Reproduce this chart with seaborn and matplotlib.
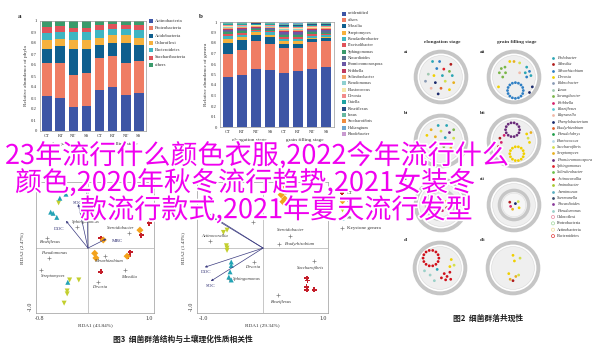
import numpy as np
import pandas as pd
import matplotlib
matplotlib.use("Agg")
import matplotlib.pyplot as plt
import matplotlib.patheffects as pe
from matplotlib.patches import Circle
import seaborn as sns

sns.set_theme(style="white")
plt.rcParams["font.family"] = ["Liberation Serif", "DejaVu Serif"]

# ---------------- data: stacked bars ----------------
samples = ["CT", "RT", "NT", "SS", "CT", "RT", "NT", "SS"]
stage_names = ["elongation stage", "grain filling stage"]

phylum_names = ["Actinobacteria", "Proteobacteria", "Acidobacteria", "Chloroflexi",
                "Bacteroidetes", "Saccharibacteria", "others"]
actinobacteria = [0.32, 0.30, 0.22, 0.23, 0.37, 0.40, 0.33, 0.35]
proteobacteria = [0.30, 0.32, 0.29, 0.30, 0.29, 0.28, 0.29, 0.29]
acidobacteria = [0.13, 0.15, 0.24, 0.22, 0.12, 0.12, 0.18, 0.14]
chloroflexi = [0.08, 0.07, 0.08, 0.08, 0.07, 0.07, 0.07, 0.07]
bacteroidetes = [0.06, 0.06, 0.07, 0.07, 0.07, 0.06, 0.06, 0.07]
saccharibacteria = [0.06, 0.05, 0.04, 0.04, 0.04, 0.04, 0.03, 0.04]
phylum_others = [0.05, 0.05, 0.06, 0.06, 0.04, 0.03, 0.04, 0.04]
phylum_colors = ["#3d55a5", "#ef7d64", "#0f5f8e", "#f6b13d", "#3fb5c2", "#e0535a", "#3a9b6b"]

genus_names = ["unidentified", "others", "Massilia", "Streptomyces", "Pseudarthrobacter",
               "Flavisolibacter", "Sphingomonas", "Nocardioides", "Promicromonospora",
               "Kribbella", "Solirubrobacter", "Pseudomonas", "Blastococcus", "Devosia",
               "Gaiella", "Roseiflexus", "Ianus", "Saccharofibris", "Haliangium", "Rhodobacter"]
g_unidentified = [0.48, 0.50, 0.55, 0.54, 0.51, 0.53, 0.55, 0.57]
g_others = [0.22, 0.23, 0.27, 0.25, 0.24, 0.22, 0.26, 0.25]
g_massilia = [0.10, 0.10, 0.06, 0.07, 0.04, 0.04, 0.03, 0.03]
g_streptomyces = [0.04, 0.03, 0.02, 0.02, 0.03, 0.03, 0.01, 0.01]
g_pseudarthrobacter = [0.03, 0.02, 0.01, 0.02, 0.02, 0.02, 0.02, 0.02]
g_flavisolibacter = [0.02, 0.02, 0.01, 0.01, 0.02, 0.02, 0.02, 0.01]
g_sphingomonas = [0.015, 0.015, 0.01, 0.01, 0.015, 0.015, 0.01, 0.01]
g_nocardioides = [0.01, 0.01, 0.01, 0.01, 0.015, 0.015, 0.01, 0.01]
g_promicromonospora = [0.01, 0.01, 0.005, 0.01, 0.01, 0.01, 0.01, 0.01]
g_kribbella = [0.01, 0.01, 0.005, 0.005, 0.01, 0.01, 0.01, 0.01]
g_solirubrobacter = [0.01, 0.01, 0.01, 0.01, 0.01, 0.01, 0.01, 0.01]
g_pseudomonas = [0.01, 0.005, 0.005, 0.005, 0.01, 0.01, 0.005, 0.005]
g_blastococcus = [0.01, 0.005, 0.005, 0.005, 0.01, 0.01, 0.01, 0.01]
g_devosia = [0.005, 0.005, 0.005, 0.005, 0.01, 0.01, 0.01, 0.01]
g_gaiella = [0.01, 0.01, 0.01, 0.01, 0.01, 0.01, 0.01, 0.01]
g_roseiflexus = [0.005, 0.005, 0.005, 0.005, 0.01, 0.01, 0.01, 0.01]
g_ianus = [0.005, 0.005, 0.005, 0.005, 0.01, 0.01, 0.005, 0.005]
g_saccharofibris = [0.005, 0.005, 0.005, 0.005, 0.005, 0.005, 0.005, 0.005]
g_haliangium = [0.005, 0.005, 0.005, 0.005, 0.005, 0.005, 0.005, 0.005]
g_rhodobacter = [0.005, 0.005, 0.005, 0.005, 0.005, 0.005, 0.005, 0.005]
genus_colors = ["#3d55a5", "#ef7d64", "#0f5f8e", "#f6b13d", "#3fb5c2", "#e0535a", "#3a9b6b",
                "#5b6f8f", "#6b58a6", "#c0395f", "#f3a86a", "#8fd0d0", "#f5e6a8", "#f28b8b",
                "#1fa3a3", "#2b4d86", "#67b8a0", "#f08c3e", "#6ea5cf", "#c99ad0"]

# ---------------- data: networks ----------------
net_names = ["Pedobacter", "Massilia", "Mesorhizobium", "Devosia", "Rubrobacter", "Ianus",
             "Sorangibacter", "Kribbella", "Roseiflexus", "Rayranella", "Phenylobacterium",
             "Bradyrhizobium", "Pseudolabrys", "Blastococcus", "Saccharofibris", "Streptomyces",
             "Promicromonospora", "Sphingomonas", "Solirubrobacter", "Actinocorallia",
             "Aminobacter", "Arenimonas", "Skermanella", "Nocardioides", "Pseudomonas"]
net_colors = ["#2ba6b5", "#b01c1c", "#2f7fc4", "#f0d000", "#8a9bb5", "#9fc8b0", "#7ab648",
              "#d6236e", "#5bc8d6", "#f0b8a8", "#1a2a6c", "#e0602a", "#1f9e4a", "#b8d8e8",
              "#d4e04a", "#e8b020", "#6a2b7a", "#e0202a", "#6cc04a", "#d0101a", "#a8c830",
              "#5aaec0", "#3a4a6a", "#8a3a9a", "#9ad0c8"]
phyla_open = ["Chloroflexi", "Proteobacteria", "Actinobacteria", "Bacteroidetes"]
phyla_open_colors = ["#e88aa0", "#9fd49a", "#efdc9a", "#e03a3a"]

ai_nodes = [(-0.30, 0.55, 0), (-0.05, 0.55, 2), (0.35, 0.45, 1), (-0.15, 0.30, 2), (0.10, 0.28, 17),
            (0.30, 0.20, 6), (-0.45, 0.10, 5), (-0.25, 0.05, 3), (0.05, 0.05, 0), (0.40, 0.05, 0),
            (-0.55, -0.15, 4), (-0.20, -0.20, 10), (0.15, -0.15, 14), (0.45, -0.20, 15),
            (-0.35, -0.40, 9), (0.00, -0.40, 11), (0.30, -0.45, 3), (-0.10, -0.60, 10)]
aii_nodes = [(-0.45, 0.30, 6), (-0.32, 0.35, 6), (-0.52, 0.15, 6), (-0.30, 0.15, 6), (-0.40, 0.00, 6),
             (0.45, 0.35, 0), (0.55, 0.20, 2), (0.40, 0.15, 0), (0.60, 0.05, 0), (0.45, 0.00, 2),
             (0.00, 0.55, 15), (0.20, 0.50, 14), (-0.15, 0.55, 3), (0.65, -0.35, 10),
             (0.55, -0.55, 10), (-0.55, -0.35, 3), (0.20, 0.15, 9)]
bi_nodes = [(-0.10, 0.55, 0), (0.20, 0.55, 0), (0.45, 0.40, 6), (-0.35, 0.40, 15), (0.00, 0.35, 14),
            (0.30, 0.30, 16), (-0.50, 0.20, 3), (-0.20, 0.15, 15), (0.15, 0.12, 0), (0.45, 0.10, 14),
            (-0.30, -0.10, 3), (0.10, -0.20, 6), (0.35, -0.25, 15), (-0.10, -0.40, 3)]
bii_nodes = [(-0.50, 0.10, 1), (-0.45, -0.05, 7), (-0.55, -0.20, 1), (-0.35, 0.20, 7),
             (0.50, 0.10, 14), (0.55, -0.05, 3), (0.45, 0.25, 3), (0.60, 0.30, 15)]
ci_nodes = [(-0.20, -0.15, 1), (0.05, -0.20, 7), (0.20, -0.10, 1), (-0.10, 0.10, 15), (0.15, 0.12, 3)]
cii_nodes = [(-0.15, 0.10, 1), (0.15, 0.12, 14), (-0.12, -0.05, 7), (0.18, -0.10, 3),
             (-0.05, -0.15, 15), (0.05, 0.05, 10)]
di_nodes = [(0.15, -0.20, 19), (0.25, -0.30, 19), (0.35, -0.15, 19), (0.20, -0.42, 19),
            (0.38, -0.40, 19), (0.05, -0.35, 19), (0.40, 0.30, 3), (0.50, 0.10, 14), (0.35, 0.05, 3),
            (-0.55, -0.10, 24), (-0.35, -0.25, 24), (-0.10, -0.05, 0), (-0.20, -0.45, 24)]
dii_nodes = [(0.00, 0.45, 3), (0.25, 0.35, 14), (0.05, 0.25, 3), (-0.15, -0.20, 3), (0.10, -0.30, 15),
             (0.00, -0.45, 1), (0.20, -0.25, 14), (-0.10, -0.40, 15)]
# ring modules: centre x, centre y, radius, node count, genus
aii_rings = [(0.05, -0.48, 0.28, 16, 2)]
bii_rings = [(-0.05, 0.40, 0.25, 14, 16), (0.10, -0.45, 0.25, 14, 3)]
di_rings = [(-0.32, 0.35, 0.28, 14, 19)]

# ---------------- data: RDA ----------------
left_group = ["CT"] * 6 + ["RT"] * 5 + ["NT"] * 6 + ["SS"] * 6
left_rda1 = [1.00, 0.87, 0.21, 0.69, 0.66, 0.21, 0.85, 0.25, 0.11, 0.13, 0.64,
             -0.48, -0.30, -0.15, -0.34, -0.34, -0.39, -0.46, -0.36, -0.61, -0.57, -0.51, -0.33]
left_rda2 = [0.43, 0.22, 0.17, -0.07, -0.14, -0.41, 0.31, 0.14, -0.09, -0.17, -0.14,
             0.78, -0.55, -0.55, -0.74, -0.79, -0.95, 0.86, 0.93, 0.62, 0.60, 0.53, -0.59]
left_key_names = ["Sphingomonas", "Steroidobacter", "Roseiflexus", "Pseudomonas",
                  "Mesorhizobium", "Streptomyces", "Massilia", "Devosia"]
left_key_x = [-0.18, 0.67, -0.67, -0.64, 0.28, -0.77, 0.61, 0.16]
left_key_y = [0.36, 0.26, 0.17, -0.17, -0.14, -0.38, -0.38, -0.59]
left_env_names = ["DOC", "SOC", "", "MBC"]
left_env_x = [-0.36, -0.16, -0.02, 0.30]
left_env_y = [0.47, 0.76, 1.05, 0.16]

right_group = ["CT"] * 5 + ["RT"] * 5 + ["NT"] * 5 + ["SS"] * 5
right_rda1 = [0.73, 0.74, 0.72, 0.73, 0.85, 0.32, 0.38, 0.30, 0.36, 0.33,
              -0.66, -0.60, -0.61, -0.60, -0.60, -0.53, -0.53, -0.55, -0.57, -0.53]
right_rda2 = [-0.52, -0.56, -0.67, -0.72, -0.72, 1.05, 0.98, 0.92, 0.85, 0.80,
              0.27, 0.31, 0.04, 0.00, -0.04, -0.24, -0.30, -0.41, -0.50, -0.55]
right_key_names = ["", "Actinocorallia", "Steroidobacter", "Bradyrhizobium",
                   "Devosia", "Saccharofibris", "Sphingomonas", "Roseiflexus"]
right_key_x = [-0.17, -0.88, 0.45, 0.27, -0.15, 0.85, -0.57, 0.25]
right_key_y = [0.45, 0.12, 0.21, 0.07, -0.24, -0.22, -0.53, -0.81]
right_env_names = ["DOC", "SOC", "", ""]
right_env_x = [-0.97, -0.87, -0.83, -0.95]
right_env_y = [-0.33, -0.57, 0.52, 0.62]

group_colors = {"CT": "#c41e2a", "RT": "#f3a21b", "NT": "#c3cf2e", "SS": "#22a3b5"}
group_markers = {"CT": "P", "RT": "D", "NT": "v", "SS": "^"}

overlay_lines = ["23年流行什么颜色衣服,2022今年流行什么",
                 "颜色,2020年秋冬流行趋势,2021女装冬",
                 "款流行款式,2021年夏天流行发型"]

# ---------------- layout ----------------
W, H = 600, 357
fig = plt.figure(figsize=(6, 3.57), dpi=100)
fig.patch.set_facecolor("white")


def box(l, t, r, b):
    return [l / W, 1 - b / H, (r - l) / W, (b - t) / H]


TXT = "#333333"
SPINE = "#9a9a9a"

# text label anchors (left edge) for the RDA panels, in axis units
left_key_lx = [-0.26, 0.31, -0.80, -0.77, 0.10, -0.77, 0.54, 0.07]
left_key_ly = [0.45, 0.34, 0.11, -0.09, -0.22, -0.49, -0.50, -0.68]
left_env_lx = [-0.56, -0.25, 0.0, 0.39]
left_env_ly = [0.33, 0.78, 0.0, 0.12]
right_key_lx = [0.0, -1.03, 0.23, 0.37, -0.30, 0.57, -0.50, 0.12]
right_key_ly = [0.0, 0.21, 0.31, 0.07, -0.33, -0.34, -0.53, -0.93]
right_env_lx = [-1.03, -0.95, 0.0, 0.0]
right_env_ly = [-0.42, -0.66, 0.0, 0.0]


def stacked(ax, layers, colors, ylabel):
    tops = np.cumsum(np.array(layers), axis=0)
    pos = list(range(len(samples)))
    for top, col in zip(tops[::-1], colors[::-1]):
        sns.barplot(x=pos, y=top, color=col, width=0.74, saturation=1,
                    errorbar=None, linewidth=0, ax=ax)
    ax.set_xlim(-0.55, len(samples) - 0.45)
    ax.set_ylim(0, 1.0)
    ax.set_xticks(pos)
    ax.set_xticklabels(samples)
    ax.set_yticks(np.arange(0, 1.01, 0.1))
    ax.set_yticklabels(["0"] + [f"{v:.1f}" for v in np.arange(0.1, 0.95, 0.1)] + ["1"])
    ax.tick_params(labelsize=3.4, length=1.2, width=0.4, pad=1, colors=TXT)
    for s in ax.spines.values():
        s.set_color(SPINE)
        s.set_linewidth(0.5)
    ax.set_ylabel(ylabel, fontsize=3.8, color=TXT, labelpad=2)
    ax.set_xlabel("")
    for k, name in enumerate(stage_names):
        ax.text(1.5 + 4 * k, -0.10, name, transform=ax.get_xaxis_transform(),
                ha="center", va="top", fontsize=3.8, color=TXT)


ax_a = fig.add_axes(box(40, 21, 146, 131))
stacked(ax_a, [actinobacteria, proteobacteria, acidobacteria, chloroflexi, bacteroidetes,
               saccharibacteria, phylum_others], phylum_colors, "Relative abundance of phyla")

ax_b = fig.add_axes(box(220, 22, 334, 127))
stacked(ax_b, [g_unidentified, g_others, g_massilia, g_streptomyces, g_pseudarthrobacter,
               g_flavisolibacter, g_sphingomonas, g_nocardioides, g_promicromonospora,
               g_kribbella, g_solirubrobacter, g_pseudomonas, g_blastococcus, g_devosia,
               g_gaiella, g_roseiflexus, g_ianus, g_saccharofibris, g_haliangium,
               g_rhodobacter], genus_colors, "Relative abundance of genera")


def network(cx, cy, nodes, rings=(), double=False):
    ax = fig.add_axes(box(cx - 31, cy - 31, cx + 31, cy + 31))
    ax.set_xlim(-1.1, 1.1)
    ax.set_ylim(-1.1, 1.1)
    ax.set_aspect("equal")
    ax.axis("off")
    ax.add_patch(Circle((0, 0), 0.9, fill=False, ec="#c6c6c6", lw=2.8))
    ax.add_patch(Circle((0, 0), 0.76, fc="#efefef", ec="#dadada", lw=0.4))
    if double:
        ax.add_patch(Circle((0, 0), 0.52, fill=False, ec="#c6c6c6", lw=2.4))
        ax.add_patch(Circle((0, 0), 0.42, fc="#f6f6f6", ec="#dadada", lw=0.3))
    xs = [n[0] for n in nodes]
    ys = [n[1] for n in nodes]
    cs = [net_colors[n[2]] for n in nodes]
    for rx, ry, rr, cnt, g in rings:
        ang = np.linspace(0, 2 * np.pi, cnt, endpoint=False)
        xs += list(rx + rr * np.cos(ang))
        ys += list(ry + rr * np.sin(ang))
        cs += [net_colors[g]] * cnt
    sns.scatterplot(x=xs, y=ys, c=cs, s=4, linewidth=0, ax=ax, legend=False)
    return ax


network(441, 77, ai_nodes)
network(514, 77, aii_nodes, aii_rings)
network(441, 141, bi_nodes)
network(514, 141, bii_nodes, bii_rings)
network(441, 205, ci_nodes, double=True)
network(514, 205, cii_nodes, double=True)
network(440, 268, di_nodes, di_rings)
network(513, 268, dii_nodes)


def rda(ax, g, r1, r2, kn, kx, ky, klx, kly, en, ex, ey, elx, ely, xlim, xt, xlabel, ylabel):
    df = pd.DataFrame({"RDA1": r1, "RDA2": r2, "group": g})
    ax.axhline(0, color="#b0b0b0", lw=0.5, zorder=0)
    ax.axvline(0, color="#b0b0b0", lw=0.5, zorder=0)
    for name, x, y, lx, ly in zip(en, ex, ey, elx, ely):
        ax.annotate("", xy=(x, y), xytext=(0, 0),
                    arrowprops=dict(arrowstyle="-|>", lw=0.5, color="#3b3b80",
                                    mutation_scale=3, shrinkA=0, shrinkB=0))
        if name:
            ax.text(lx, ly, name, fontsize=3.6, color="#2b2b70", ha="left", va="center")
    sns.scatterplot(x=kx, y=ky, marker="+", color="#808080", s=6, linewidth=0.5,
                    ax=ax, legend=False)
    for name, lx, ly in zip(kn, klx, kly):
        if name:
            ax.text(lx, ly, name, fontsize=3.3, style="italic", color=TXT,
                    ha="left", va="center")
    sns.scatterplot(data=df, x="RDA1", y="RDA2", hue="group", style="group",
                    palette=group_colors, markers=group_markers, s=13,
                    linewidth=0, ax=ax, legend=False)
    ax.set_xlim(*xlim)
    ax.set_ylim(-1.12, 1.14)
    ax.set_xticks(xt)
    ax.set_xticklabels([f"{v:.1f}" for v in xt])
    ax.set_yticks([-1.0])
    ax.set_yticklabels(["-1.0"], rotation=90, va="center")
    ax.tick_params(labelsize=4.2, length=0, pad=2, colors=TXT)
    ax.set_xlabel(xlabel, fontsize=3.8, color=TXT, labelpad=2)
    ax.set_ylabel(ylabel, fontsize=3.8, color=TXT, labelpad=3)
    for s in ax.spines.values():
        s.set_color(SPINE)
        s.set_linewidth(0.5)


ax_l = fig.add_axes(box(36, 182, 154, 313))
rda(ax_l, left_group, left_rda1, left_rda2, left_key_names, left_key_x, left_key_y,
    left_key_lx, left_key_ly, left_env_names, left_env_x, left_env_y, left_env_lx, left_env_ly,
    (-0.85, 1.08), [-0.8, 1.0], "RDA1 (43.84%)", "RDA2 (2.47%)")

ax_r = fig.add_axes(box(197, 182, 328, 313))
rda(ax_r, right_group, right_rda1, right_rda2, right_key_names, right_key_x, right_key_y,
    right_key_lx, right_key_ly, right_env_names, right_env_x, right_env_y, right_env_lx,
    right_env_ly, (-1.1, 1.08), [-1.0, 1.0], "RDA1 (29.34%)", "RDA2 (1.43%)")

# ---------------- legends, panel labels, captions (pixel layer) ----------------
lg = fig.add_axes([0, 0, 1, 1], zorder=5)
lg.set_xlim(0, W)
lg.set_ylim(H, 0)
lg.axis("off")

lg.text(18, 17, "a", fontsize=5, weight="bold", color="#222222", va="center")
lg.text(199, 17, "b", fontsize=5, weight="bold", color="#222222", va="center")

for i, (name, col) in enumerate(zip(phylum_names, phylum_colors)):
    y = 21 + i * 7.3
    lg.scatter(151, y, marker="s", s=5, color=col, linewidths=0)
    lg.text(155, y, name, fontsize=3.4, color=TXT, va="center")

for i, (name, col) in enumerate(zip(genus_names, genus_colors)):
    y = 13.5 + i * 6.35
    lg.scatter(344, y, marker="s", s=5, color=col, linewidths=0)
    lg.text(348, y, name, fontsize=3.2, color=TXT, va="center")

lg.text(442, 42, "elongation stage", fontsize=3.8, weight="bold", color=TXT, ha="center", va="center")
lg.text(517, 42, "grain filling stage", fontsize=3.8, weight="bold", color=TXT, ha="center", va="center")
for lab, x, y in [("ai", 404, 52), ("aii", 480, 52), ("bi", 404, 113), ("bii", 480, 113),
                  ("ci", 404, 179), ("cii", 480, 179), ("di", 404, 240), ("dii", 480, 240)]:
    lg.text(x, y, lab, fontsize=3.6, weight="bold", color=TXT, va="center")

for i, (name, col) in enumerate(zip(net_names, net_colors)):
    y = 58 + i * 6.36
    lg.scatter(553, y, marker="o", s=4, color=col, linewidths=0)
    lg.text(557, y, name, fontsize=3.1, style="italic", color=TXT, va="center")
for j, (name, col) in enumerate(zip(phyla_open, phyla_open_colors)):
    y = 58 + (len(net_names) + j) * 6.36
    lg.scatter(553, y, marker="o", s=5, facecolors="none", edgecolors=col, linewidths=0.5)
    lg.text(557, y, name, fontsize=3.1, color=TXT, va="center")

for i, grp in enumerate(["CT", "RT", "NT", "SS"]):
    y = 193 + i * 8.3
    lg.scatter(342, y, marker=group_markers[grp], s=8, color=group_colors[grp], linewidths=0)
    lg.text(347, y, grp, fontsize=3.6, color=TXT, va="center")
lg.scatter(342, 228, marker="+", s=6, color="#808080", linewidths=0.5)
lg.text(347, 228, "Keystone genera", fontsize=3.6, color=TXT, va="center")

cjk = ["Noto Sans CJK SC", "DejaVu Sans"]
lg.text(488, 318, "图2  细菌群落共现性", family=cjk, fontsize=5.6, weight="bold",
        color="#222222", ha="center", va="center")
lg.text(183, 339, "图3  细菌群落结构与土壤理化性质相关性", family=cjk, fontsize=5.6,
        weight="bold", color="#222222", ha="center", va="center")

# ---------------- overlay headline ----------------
ov = fig.add_axes([0, 0, 1, 1], zorder=20)
ov.set_xlim(0, W)
ov.set_ylim(H, 0)
ov.axis("off")
for line, x, y in zip(overlay_lines, [5, 15, 80], [156, 183, 210]):
    ov.text(x, y, line, family=cjk, fontsize=19.5, color="#f000f0", ha="left", va="center",
            path_effects=[pe.withStroke(linewidth=2.5, foreground="white")])

fig.savefig("out.png", dpi=100)
